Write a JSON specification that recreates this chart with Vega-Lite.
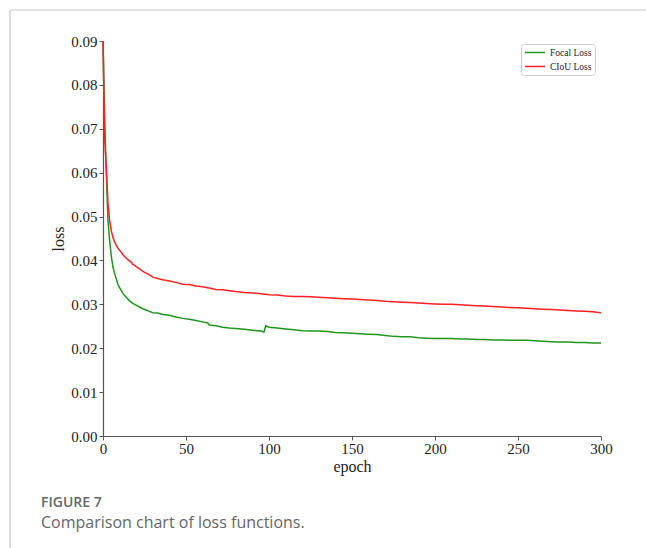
{
  "$schema": "https://vega.github.io/schema/vega-lite/v6.json",
  "width": 498,
  "height": 395,
  "autosize": {"type": "none"},
  "padding": {"left": 103, "top": 41, "right": 45, "bottom": 112},
  "background": "white",
  "title": {
    "text": "FIGURE 7",
    "subtitle": "Comparison chart of loss functions.",
    "orient": "bottom",
    "anchor": "start",
    "frame": "group",
    "dx": -62,
    "offset": -53,
    "font": "Open Sans",
    "fontSize": 14,
    "fontWeight": 600,
    "color": "#666666",
    "subtitleFont": "Open Sans",
    "subtitleFontSize": 16,
    "subtitleColor": "#666666",
    "subtitlePadding": 5
  },
  "config": {
    "view": {"stroke": null},
    "axis": {
      "labelFont": "Liberation Serif",
      "titleFont": "Liberation Serif",
      "labelFontSize": 15,
      "titleFontSize": 16,
      "titleFontWeight": "normal",
      "labelColor": "#222222",
      "titleColor": "#222222",
      "domainColor": "#555555",
      "tickColor": "#555555",
      "domainWidth": 1.2,
      "tickWidth": 1,
      "tickSize": 4,
      "labelFlush": false,
      "grid": false
    }
  },
  "datasets": {
    "loss": [
      {"e": 0, "f": 0.090, "c": 0.090},
      {"e": 1, "f": 0.072, "c": 0.068},
      {"e": 2, "f": 0.060, "c": 0.061},
      {"e": 3, "f": 0.049, "c": 0.053},
      {"e": 4, "f": 0.0445, "c": 0.049},
      {"e": 5, "f": 0.0410, "c": 0.0468},
      {"e": 6, "f": 0.0385, "c": 0.0452},
      {"e": 7, "f": 0.0370, "c": 0.0442},
      {"e": 8, "f": 0.0358, "c": 0.0435},
      {"e": 9, "f": 0.0345, "c": 0.0428},
      {"e": 10, "f": 0.0338, "c": 0.0423},
      {"e": 11, "f": 0.0332, "c": 0.0419},
      {"e": 12, "f": 0.0325, "c": 0.0413},
      {"e": 13, "f": 0.0320, "c": 0.0409},
      {"e": 14, "f": 0.0316, "c": 0.0405},
      {"e": 15, "f": 0.0312, "c": 0.0402},
      {"e": 16, "f": 0.0308, "c": 0.0399},
      {"e": 17, "f": 0.0305, "c": 0.0396},
      {"e": 18, "f": 0.0302, "c": 0.0391},
      {"e": 19, "f": 0.0300, "c": 0.0389},
      {"e": 20, "f": 0.0298, "c": 0.0386},
      {"e": 22, "f": 0.0294, "c": 0.0381},
      {"e": 24, "f": 0.0290, "c": 0.0375},
      {"e": 26, "f": 0.0287, "c": 0.0371},
      {"e": 28, "f": 0.0284, "c": 0.0367},
      {"e": 30, "f": 0.0281, "c": 0.0362},
      {"e": 33, "f": 0.0280, "c": 0.0359},
      {"e": 36, "f": 0.0277, "c": 0.0356},
      {"e": 40, "f": 0.0275, "c": 0.0353},
      {"e": 44, "f": 0.0271, "c": 0.0350},
      {"e": 48, "f": 0.0268, "c": 0.0346},
      {"e": 52, "f": 0.0266, "c": 0.0345},
      {"e": 56, "f": 0.0263, "c": 0.0342},
      {"e": 60, "f": 0.0260, "c": 0.0340},
      {"e": 63, "f": 0.0258, "c": 0.0338},
      {"e": 64, "f": 0.0253, "c": 0.0337},
      {"e": 68, "f": 0.0251, "c": 0.0334},
      {"e": 72, "f": 0.0248, "c": 0.0333},
      {"e": 76, "f": 0.0246, "c": 0.0331},
      {"e": 80, "f": 0.0245, "c": 0.0329},
      {"e": 85, "f": 0.0243, "c": 0.0327},
      {"e": 90, "f": 0.0241, "c": 0.0326},
      {"e": 95, "f": 0.0239, "c": 0.0324},
      {"e": 97, "f": 0.0237, "c": 0.0323},
      {"e": 98, "f": 0.0251, "c": 0.0323},
      {"e": 100, "f": 0.0248, "c": 0.0322},
      {"e": 105, "f": 0.0246, "c": 0.0321},
      {"e": 110, "f": 0.0244, "c": 0.0319},
      {"e": 115, "f": 0.0242, "c": 0.0318},
      {"e": 120, "f": 0.0240, "c": 0.0318},
      {"e": 125, "f": 0.0239, "c": 0.0317},
      {"e": 130, "f": 0.0239, "c": 0.0316},
      {"e": 135, "f": 0.0238, "c": 0.0315},
      {"e": 140, "f": 0.0236, "c": 0.0314},
      {"e": 145, "f": 0.0235, "c": 0.0313},
      {"e": 150, "f": 0.0234, "c": 0.0312},
      {"e": 155, "f": 0.0233, "c": 0.0311},
      {"e": 160, "f": 0.0232, "c": 0.0310},
      {"e": 165, "f": 0.0231, "c": 0.0309},
      {"e": 170, "f": 0.0229, "c": 0.0307},
      {"e": 175, "f": 0.0227, "c": 0.0306},
      {"e": 180, "f": 0.0226, "c": 0.0305},
      {"e": 185, "f": 0.0226, "c": 0.0304},
      {"e": 190, "f": 0.0224, "c": 0.0303},
      {"e": 195, "f": 0.0223, "c": 0.0302},
      {"e": 200, "f": 0.0222, "c": 0.0301},
      {"e": 205, "f": 0.0222, "c": 0.0300},
      {"e": 210, "f": 0.0222, "c": 0.0300},
      {"e": 215, "f": 0.0221, "c": 0.0299},
      {"e": 220, "f": 0.0221, "c": 0.0298},
      {"e": 225, "f": 0.0220, "c": 0.0297},
      {"e": 230, "f": 0.0220, "c": 0.0296},
      {"e": 235, "f": 0.0219, "c": 0.0295},
      {"e": 240, "f": 0.0219, "c": 0.0294},
      {"e": 245, "f": 0.0218, "c": 0.0293},
      {"e": 250, "f": 0.0218, "c": 0.0292},
      {"e": 255, "f": 0.0218, "c": 0.0291},
      {"e": 260, "f": 0.0217, "c": 0.0290},
      {"e": 265, "f": 0.0216, "c": 0.0289},
      {"e": 270, "f": 0.0215, "c": 0.0288},
      {"e": 275, "f": 0.0214, "c": 0.0287},
      {"e": 280, "f": 0.0214, "c": 0.0286},
      {"e": 285, "f": 0.0213, "c": 0.0285},
      {"e": 290, "f": 0.0213, "c": 0.0284},
      {"e": 295, "f": 0.0212, "c": 0.0283},
      {"e": 300, "f": 0.0212, "c": 0.0281}
    ],
    "frame": [
      {"x1": -56, "x2": 330, "y1": 0.09706, "y2": 0.09706},
      {"x1": -56, "x2": -56, "y1": 0.09706, "y2": -0.0256}
    ]
  },
  "layer": [
    {
      "data": {"name": "frame"},
      "mark": {"type": "rule", "clip": false, "color": "#c8c8c8", "strokeWidth": 1.2},
      "encoding": {
        "x": {"field": "x1", "type": "quantitative"},
        "x2": {"field": "x2"},
        "y": {"field": "y1", "type": "quantitative"},
        "y2": {"field": "y2"}
      }
    },
    {
      "data": {"name": "loss"},
      "transform": [
        {"fold": ["f", "c"], "as": ["key", "loss"]},
        {"lookup": "key", "from": {"data": {"values": [{"key": "f", "name": "Focal Loss"}, {"key": "c", "name": "CIoU Loss"}]}, "key": "key", "fields": ["name"]}}
      ],
      "mark": {"type": "line", "strokeWidth": 1.5, "clip": false},
      "encoding": {
        "x": {
          "field": "e",
          "type": "quantitative",
          "title": "epoch",
          "scale": {"domain": [0, 300], "nice": false, "zero": false},
          "axis": {"values": [0, 50, 100, 150, 200, 250, 300], "labelPadding": 1, "titlePadding": 2}
        },
        "y": {
          "field": "loss",
          "type": "quantitative",
          "title": "loss",
          "scale": {"domain": [0, 0.09], "nice": false, "zero": false},
          "axis": {"values": [0, 0.01, 0.02, 0.03, 0.04, 0.05, 0.06, 0.07, 0.08, 0.09], "format": ".2f", "labelPadding": 2, "titlePadding": 4}
        },
        "color": {
          "field": "name",
          "type": "nominal",
          "scale": {"domain": ["Focal Loss", "CIoU Loss"], "range": ["#1e961e", "#ff2020"]},
          "legend": {
            "title": null,
            "orient": "none",
            "legendX": 418,
            "legendY": 3,
            "symbolType": "stroke",
            "symbolSize": 400,
            "symbolStrokeWidth": 1.5,
            "clipHeight": 11,
            "labelFont": "Liberation Serif",
            "labelFontSize": 9.5,
            "labelColor": "#222222",
            "padding": 3,
            "rowPadding": 3,
            "strokeColor": "#cccccc",
            "fillColor": "white",
            "cornerRadius": 3
          }
        }
      }
    }
  ]
}
